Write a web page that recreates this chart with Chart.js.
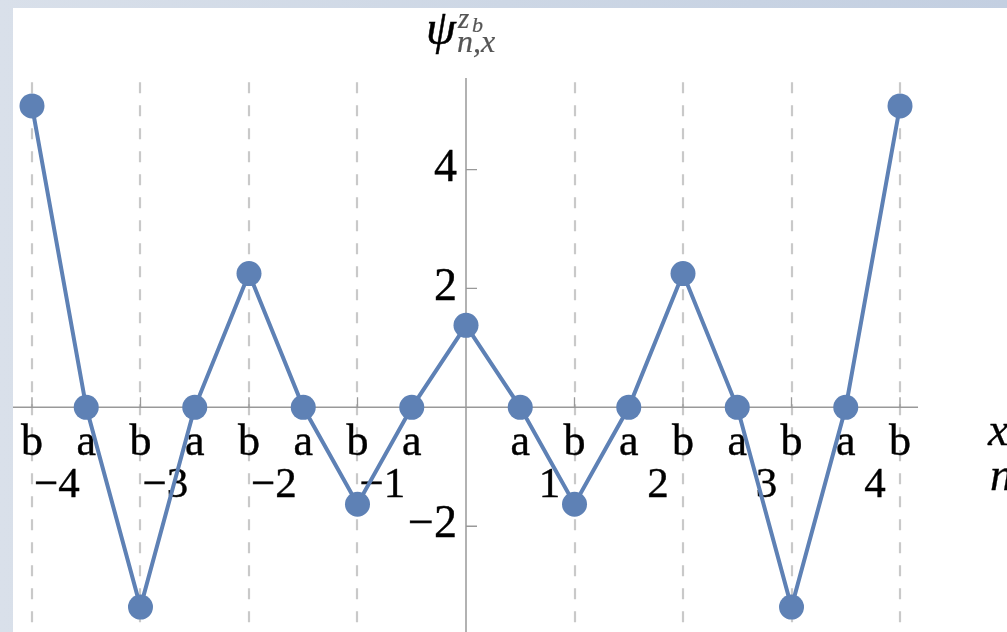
<!DOCTYPE html>
<html>
<head>
<meta charset="utf-8">
<script src="https://cdn.jsdelivr.net/npm/chart.js@4.4.1/dist/chart.umd.min.js"></script>
<style>
  html, body { margin: 0; padding: 0; }
  body {
    width: 1007px; height: 632px; overflow: hidden; position: relative;
    background: linear-gradient(90deg, #d9e0ea 0%, #cdd7e5 50%, #c3cfe1 100%);
  }
  #frame { position: absolute; left: 13px; top: 8px; width: 994px; height: 624px; background: #fff; }
</style>
</head>
<body>
<div id="frame"><canvas id="psiChart" width="994" height="624"></canvas></div>
<script>
// lattice sites: b on integers, a on half-integers
const sites = [-4, -3.5, -3, -2.5, -2, -1.5, -1, -0.5, 0, 0.5, 1, 1.5, 2, 2.5, 3, 3.5, 4];
const siteNames = ['b', 'a', 'b', 'a', 'b', 'a', 'b', 'a', 'b', 'a', 'b', 'a', 'b', 'a', 'b', 'a', 'b'];
const psi = [5.07, 0, -3.36, 0, 2.25, 0, -1.63, 0, 1.38, 0, -1.63, 0, 2.25, 0, -3.36, 0, 5.07];

// unit cell index n and value-axis ticks
const cells = [-4, -3, -2, -1, 1, 2, 3, 4];
const yTicks = [-2, 2, 4];
const gridX = [-4, -3, -2, -1, 1, 2, 3, 4];

const BLUE = '#5e81b5';
const AXIS = '#999999';
const SERIF = "'Liberation Serif', 'DejaVu Serif', serif";

// slightly heavier glyphs than plain fillText
function label(ctx, text, px, py, weight) {
  ctx.lineWidth = weight;
  ctx.strokeStyle = ctx.fillStyle;
  ctx.fillText(text, px, py);
  ctx.strokeText(text, px, py);
}

const axesPlugin = {
  id: 'mmaAxes',
  beforeDatasetsDraw(chart) {
    const { ctx, chartArea, scales: { x, y } } = chart;
    const x0 = x.getPixelForValue(0);
    const y0 = y.getPixelForValue(0);
    ctx.save();

    // dashed verticals at the b sites
    ctx.strokeStyle = '#c9c9c9';
    ctx.lineWidth = 2.2;
    ctx.setLineDash([11, 12]);
    const gTop = y.getPixelForValue(5.47);
    gridX.forEach(v => {
      const px = Math.round(x.getPixelForValue(v));
      ctx.beginPath();
      ctx.moveTo(px, gTop);
      ctx.lineTo(px, chartArea.bottom);
      ctx.stroke();
    });
    ctx.setLineDash([]);

    // axes crossing at the origin
    ctx.strokeStyle = AXIS;
    ctx.lineWidth = 1.5;
    ctx.beginPath();
    ctx.moveTo(chartArea.left, y0);
    ctx.lineTo(x.getPixelForValue(4.166), y0);
    ctx.moveTo(x0, y.getPixelForValue(5.54));
    ctx.lineTo(x0, chartArea.bottom);
    ctx.stroke();

    // tick marks
    ctx.lineWidth = 1.3;
    ctx.beginPath();
    sites.forEach(v => {
      if (v === 0) return;
      const px = x.getPixelForValue(v);
      ctx.moveTo(px, y0);
      ctx.lineTo(px, y0 - 10);
    });
    yTicks.forEach(v => {
      const py = y.getPixelForValue(v);
      ctx.moveTo(x0, py);
      ctx.lineTo(x0 + 11, py);
    });
    ctx.stroke();

    // tick labels
    ctx.fillStyle = '#000';
    ctx.font = '46px ' + SERIF;
    ctx.textAlign = 'right';
    ctx.textBaseline = 'middle';
    yTicks.forEach(v => {
      label(ctx, v < 0 ? '\u2212' + Math.abs(v) : String(v), x0 - 9, y.getPixelForValue(v) - 1, 0.4);
    });

    ctx.font = '44px ' + SERIF;
    ctx.textAlign = 'center';
    ctx.textBaseline = 'alphabetic';
    sites.forEach((v, i) => {
      if (v === 0) return;
      label(ctx, siteNames[i], x.getPixelForValue(v), y0 + 48, 0.4);
    });
    ctx.font = '43px ' + SERIF;
    cells.forEach(n => {
      const px = x.getPixelForValue(n - 0.23 * Math.sign(n));
      label(ctx, n < 0 ? '\u2212' + Math.abs(n) : String(n), px, y0 + 90, 0.4);
    });

    // axis names
    ctx.textAlign = 'left';
    ctx.font = 'italic 46px ' + SERIF;
    label(ctx, 'x', 975, y0 + 38, 0.3);
    label(ctx, 'n', 977, y0 + 83, 0.3);

    // ψ^{z_b}_{n,x}
    ctx.font = 'italic 48px ' + SERIF;
    label(ctx, '\u03c8', 413, 36, 0.5);
    ctx.fillStyle = '#555555';
    ctx.font = 'italic 29px ' + SERIF;
    label(ctx, 'z', 445, 20, 0.2);
    ctx.font = 'italic 22px ' + SERIF;
    label(ctx, 'b', 459, 24, 0.2);
    ctx.font = 'italic 32px ' + SERIF;
    label(ctx, 'n,x', 444, 44, 0.2);

    ctx.restore();
  }
};

new Chart(document.getElementById('psiChart'), {
  type: 'line',
  data: {
    datasets: [{
      data: sites.map((s, i) => ({ x: s, y: psi[i] })),
      borderColor: BLUE,
      borderWidth: 4,
      backgroundColor: BLUE,
      pointRadius: 12.5,
      pointBorderWidth: 0,
      pointBackgroundColor: BLUE,
      tension: 0,
      clip: false
    }]
  },
  options: {
    responsive: false,
    devicePixelRatio: 1,
    animation: false,
    layout: { padding: 0, autoPadding: false },
    plugins: { legend: { display: false }, tooltip: { enabled: false } },
    scales: {
      x: { type: 'linear', min: -4.175, max: 4.986, display: false },
      y: { type: 'linear', min: -3.779, max: 6.717, display: false }
    }
  },
  plugins: [axesPlugin]
});
</script>
</body>
</html>
